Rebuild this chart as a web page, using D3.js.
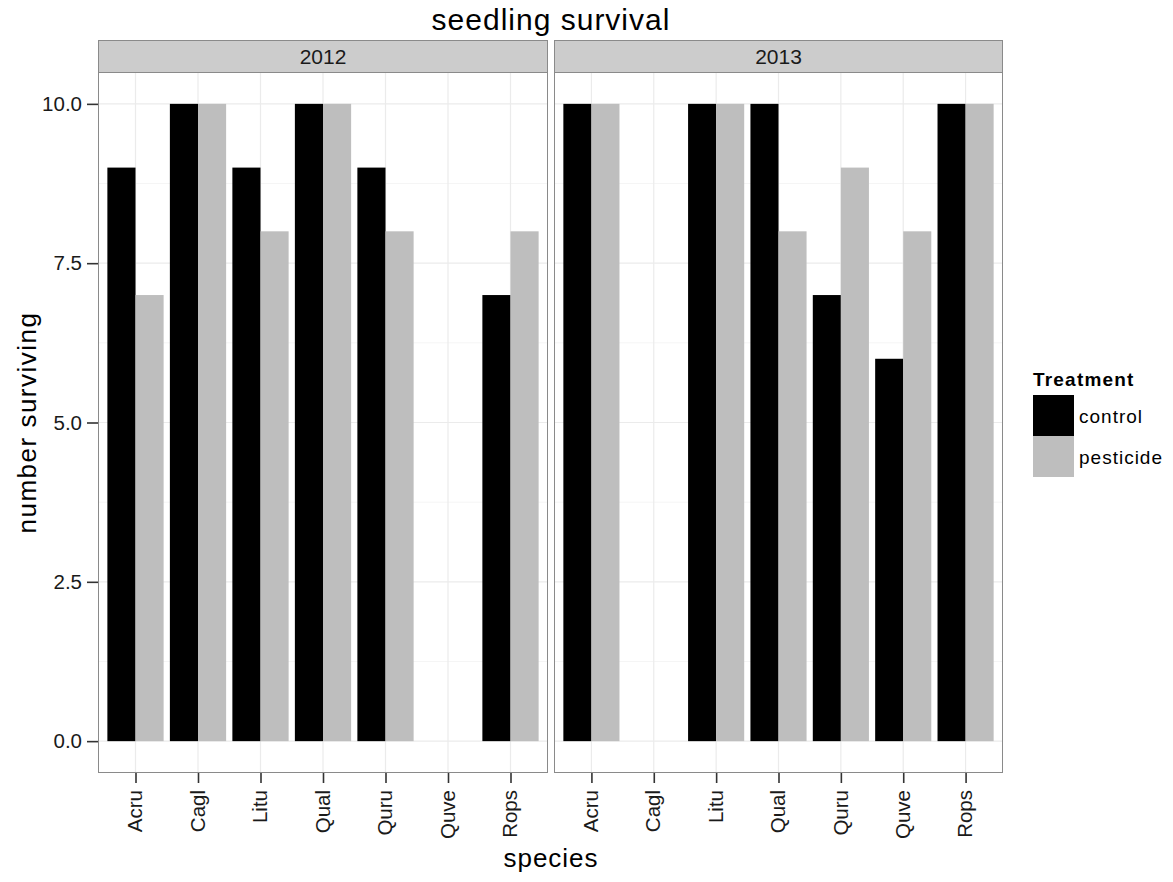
<!DOCTYPE html>
<html><head><meta charset="utf-8">
<script src="https://cdn.jsdelivr.net/npm/d3@7"></script>
<style>body{margin:0;background:#fff}svg{display:block;font-family:"Liberation Sans",Arial,sans-serif}</style>
</head><body>
<svg id="chart" width="1173" height="882"></svg>
<script>
const species = ["Acru","Cagl","Litu","Qual","Quru","Quve","Rops"];
const years = ["2012","2013"];
const treatments = ["control","pesticide"];
const control2012   = [9, 10, 9, 10, 9, null, 7];
const pesticide2012 = [7, 10, 8, 10, 8, null, 8];
const control2013   = [10, null, 10, 10, 7, 6, 10];
const pesticide2013 = [10, null, 10, 8, 9, 8, 10];
const yTicks = [0, 2.5, 5, 7.5, 10];
const yMinor = [1.25, 3.75, 6.25, 8.75];
const colors = ["#000000", "#bebebe"];

const seriesByYear = {
  "2012": [control2012, pesticide2012],
  "2013": [control2013, pesticide2013]
};

const svg = d3.select("#chart");
const panelTop = 72, panelBottom = 773, stripTop = 40;
const panels = [{x0: 98, x1: 548}, {x0: 554, x1: 1003}];

const y = d3.scaleLinear().domain([-0.5, 10.5]).range([panelBottom, panelTop]);
const color = d3.scaleOrdinal().domain(treatments).range(colors);

// title
svg.append("text").attr("x", 551).attr("y", 30).attr("text-anchor", "middle")
  .attr("font-size", 30).attr("letter-spacing", 1).attr("fill", "#000").text("seedling survival");

years.forEach((yr, pi) => {
  const p = panels[pi];
  const x = d3.scalePoint().domain(species).range([p.x0, p.x1]).padding(0.6);
  const unit = x.step();
  const barW = unit * 0.45;
  const g = svg.append("g");

  // strip
  g.append("rect").attr("x", p.x0 + 0.5).attr("y", stripTop + 0.5)
    .attr("width", p.x1 - p.x0 - 1).attr("height", panelTop - stripTop)
    .attr("fill", "#cccccc").attr("stroke", "#8a8a8a").attr("stroke-width", 1);
  g.append("text").attr("x", (p.x0 + p.x1) / 2).attr("y", (stripTop + panelTop) / 2 + 8)
    .attr("text-anchor", "middle").attr("font-size", 21).attr("fill", "#1a1a1a").text(yr);

  // background
  g.append("rect").attr("x", p.x0).attr("y", panelTop).attr("width", p.x1 - p.x0)
    .attr("height", panelBottom - panelTop).attr("fill", "#fff");

  // grid
  g.selectAll(".ymin").data(yMinor).join("line")
    .attr("x1", p.x0).attr("x2", p.x1).attr("y1", d => y(d)).attr("y2", d => y(d))
    .attr("stroke", "#f5f5f5").attr("stroke-width", 1);
  g.selectAll(".ymaj").data(yTicks).join("line")
    .attr("x1", p.x0).attr("x2", p.x1).attr("y1", d => y(d)).attr("y2", d => y(d))
    .attr("stroke", "#ebebeb").attr("stroke-width", 1.2);
  g.selectAll(".xmaj").data(species).join("line")
    .attr("x1", d => x(d)).attr("x2", d => x(d)).attr("y1", panelTop).attr("y2", panelBottom)
    .attr("stroke", "#ebebeb").attr("stroke-width", 1.2);

  // bars
  seriesByYear[yr].forEach((vals, ti) => {
    const data = species.map((s, i) => ({s, v: vals[i]})).filter(d => d.v !== null);
    g.selectAll(".bar" + ti).data(data).join("rect")
      .attr("x", d => x(d.s) - barW + ti * barW)
      .attr("width", barW)
      .attr("y", d => y(d.v))
      .attr("height", d => y(0) - y(d.v))
      .attr("fill", color(treatments[ti]));
  });

  // panel border
  g.append("rect").attr("x", p.x0 + 0.5).attr("y", panelTop + 0.5)
    .attr("width", p.x1 - p.x0 - 1).attr("height", panelBottom - panelTop - 1)
    .attr("fill", "none").attr("stroke", "#8a8a8a").attr("stroke-width", 1);

  // x axis
  const xa = g.append("g").attr("transform", `translate(0,${panelBottom})`)
    .call(d3.axisBottom(x).tickSize(10).tickPadding(6));
  xa.select(".domain").remove();
  xa.selectAll(".tick line").attr("stroke", "#333").attr("stroke-width", 1.6);
  xa.selectAll(".tick text").attr("font-size", 20.5).attr("fill", "#1a1a1a")
    .attr("transform", "rotate(-90)").attr("text-anchor", "end")
    .attr("x", -17).attr("y", 0).attr("dy", "0.3em")
    .style("font-family", "Liberation Sans, Arial, sans-serif");

  if (pi === 0) {
    const ya = g.append("g").attr("transform", `translate(${p.x0},0)`)
      .call(d3.axisLeft(y).tickValues(yTicks).tickFormat(d3.format(".1f")).tickSize(11).tickPadding(5));
    ya.select(".domain").remove();
    ya.selectAll(".tick line").attr("stroke", "#333").attr("stroke-width", 1.6);
    ya.selectAll(".tick text").attr("font-size", 20.5).attr("fill", "#1a1a1a")
      .style("font-family", "Liberation Sans, Arial, sans-serif");
  }
});

// axis titles
svg.append("text").attr("x", 551).attr("y", 867).attr("text-anchor", "middle")
  .attr("font-size", 26).attr("letter-spacing", 1).attr("fill", "#000").text("species");
svg.append("text").attr("transform", `translate(36,${(panelTop + panelBottom) / 2}) rotate(-90)`)
  .attr("text-anchor", "middle").attr("font-size", 26).attr("letter-spacing", 1.5)
  .attr("fill", "#000").text("number surviving");

// legend
const lg = svg.append("g").attr("transform", "translate(1033,0)");
lg.append("text").attr("x", 0).attr("y", 386).attr("font-size", 19).attr("font-weight", "bold")
  .attr("letter-spacing", 1.2).attr("fill", "#000").text("Treatment");
treatments.forEach((t, i) => {
  lg.append("rect").attr("x", 0).attr("y", 395 + i * 41).attr("width", 41).attr("height", 41)
    .attr("fill", color(t));
  lg.append("text").attr("x", 46).attr("y", 395 + i * 41 + 20.5).attr("dy", "0.38em")
    .attr("font-size", 19).attr("letter-spacing", 1).attr("fill", "#000").text(t);
});
</script>
</body></html>
